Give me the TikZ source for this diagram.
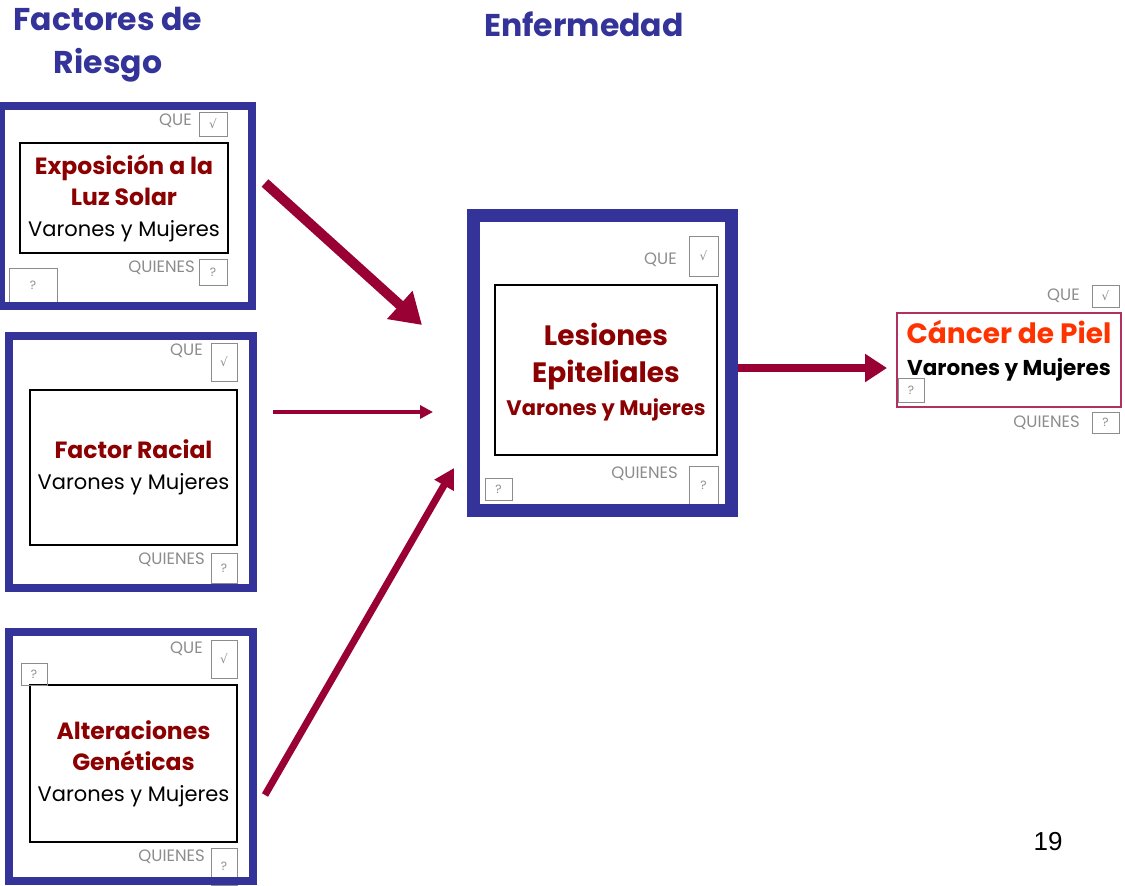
\documentclass[tikz,border=0pt]{standalone}
\usepackage{fontspec}
\setmainfont{Poppins}
\newfontfamily\symbfont{DejaVu Sans}
\newfontfamily\numfont{Liberation Sans}
\usetikzlibrary{arrows.meta}

\definecolor{frameblue}{HTML}{333399}
\definecolor{riskred}{HTML}{8B0000}
\definecolor{arrowred}{HTML}{990033}
\definecolor{cancerred}{HTML}{FF3300}
\definecolor{cancerframe}{HTML}{B03060}
\definecolor{labelgray}{HTML}{8C8C8C}

\newcommand{\riesgo}[1]{\textcolor{riskred}{\fontsize{23.5}{31}\selectfont\bfseries #1}}

\begin{document}
\begin{tikzpicture}[x=1pt, y=-1pt]
    \tikzset{
      riskframe/.style={draw=frameblue, line width=8pt},
      card/.style={draw=black, line width=1.3pt, align=center, font=\fontsize{21}{31}\selectfont},
      checkbox/.style={draw=labelgray, line width=1pt, inner sep=0pt, text=labelgray, font=\fontsize{12}{12}\selectfont},
      qlabel/.style={text=labelgray, anchor=east, inner sep=0pt, font=\fontsize{16.5}{16.5}\selectfont},
      heading/.style={text=frameblue, align=center, font=\fontsize{31.5}{43}\selectfont\bfseries},
      link/.style={draw=arrowred, line width=#1}
    };
    \useasboundingbox (0,0) rectangle (1125,886);

    % Titles
    \node[heading] (titleRiesgo) at (108,45) {Factores de\\Riesgo};
    \node[heading] (titleEnf) at (584,24) {Enfermedad};

    % Cards
    \node[card, minimum width=208, minimum height=110] (expo) at (124,198)
      {\riesgo{Exposición a la}\\\riesgo{Luz Solar}\\Varones y Mujeres};
    \node[card, minimum width=207, minimum height=155] (racial) at (133.5,467.5)
      {\riesgo{Factor Racial}\\Varones y Mujeres};
    \node[card, minimum width=207, minimum height=157] (genetica) at (133.5,763.5)
      {\riesgo{Alteraciones}\\\riesgo{Genéticas}\\Varones y Mujeres};
    \node[card, minimum width=222, minimum height=170] (lesion) at (606,370) {};
    \node[align=center, font=\fontsize{28}{37}\selectfont] (lesionText) at (606,372)
      {\riesgo{\fontsize{28}{37}\selectfont Lesiones}\\\riesgo{\fontsize{28}{37}\selectfont Epiteliales}\\[-4pt]
       \riesgo{\fontsize{21}{21}\selectfont Varones y Mujeres}};
    \node[card, draw=cancerframe, minimum width=224, minimum height=94] (cancer) at (1009,360) {};
    \node[align=center, font=\fontsize{21.5}{32}\selectfont\bfseries] (cancerText) at (1009,351)
      {{\fontsize{28}{32}\selectfont\textcolor{cancerred}{Cáncer de Piel}}\\Varones y Mujeres};

    % Check and question boxes
    \foreach \n/\x/\y/\w/\h in {A/213/124/28/24, B/224/362/26/38, C/224/659/26/38,
        D/703.5/256/29/40, E/1105.5/296/27/22}
      { \node[checkbox, minimum width=\w, minimum height=\h] (chk\n) at (\x,\y) {\symbfont √}; }
    \foreach \n/\x/\y/\w/\h in {A1/213/272/28/26, A2/33/285.5/48/35, B1/224/568/26/30,
        C1/224/866.5/26/37, C2/34/674/26/22, D1/703.5/485/29/38, D2/498.5/489/27/22,
        E1/1105.5/422.5/27/21, E2/911/390/26/24}
      { \node[checkbox, minimum width=\w, minimum height=\h] (q\n) at (\x,\y) {?}; }

    % QUE / QUIENES
    \foreach \n/\x/\y in {A/192/121, B/203/351, C/203/648.5, D/677/260, E/1080/296}
      { \node[qlabel] (que\n) at (\x,\y) {QUE}; }
    \foreach \n/\x/\y in {A/195/268, B/205/560, C/205/856.5, D/678/473.5, E/1080/423}
      { \node[qlabel] (quien\n) at (\x,\y) {QUIENES}; }

    % Frames
    \node[riskframe, minimum width=251, minimum height=200] (frameA) at (126.5,206) {};
    \node[riskframe, minimum width=244, minimum height=252] (frameB) at (131,462) {};
    \node[riskframe, minimum width=244, minimum height=249] (frameC) at (131,756.5) {};
    \node[riskframe, line width=13pt, minimum width=258, minimum height=295] (frameD) at (602.5,363) {};

    % Arrows
    \path (265,183) coordinate (expoOut);
    \path (422,325) coordinate (lesIn1);
    \path (273,412) coordinate (racialOut);
    \path (433,412) coordinate (lesIn2);
    \path (265,795) coordinate (genOut);
    \path (454,468) coordinate (lesIn3);
    \path (738,368) coordinate (lesOut);
    \path (887,368) coordinate (cancerIn);

    \draw[link=10pt, -{Triangle[length=30pt, width=36pt]}] (expoOut) -- (lesIn1);
    \draw[link=4pt, -{Triangle[length=13pt, width=13pt]}] (racialOut) -- (lesIn2);
    \draw[link=7pt, -{Triangle[length=20pt, width=21pt]}] (genOut) -- (lesIn3);
    \draw[link=8pt, -{Triangle[length=22pt, width=27pt]}] (lesOut) -- (cancerIn);

    % Page number
    \node[font=\numfont\fontsize{26}{26}\selectfont] (pagenum) at (1048,842) {19};
  \end{tikzpicture}
\end{document}
